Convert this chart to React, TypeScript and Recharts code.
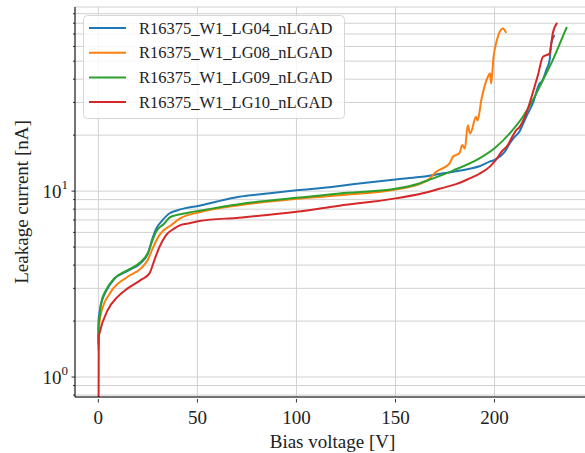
import React from 'react';
import { LineChart, Line, XAxis, YAxis, CartesianGrid, Legend } from 'recharts';

// Bias voltage [V] and leakage current [nA] per sensor
const lg04V = [0, 0.1, 0.5, 1.3, 3.9, 8.1, 14.8, 21.5, 24.9, 27.4, 29.1, 32, 36, 39.2, 44, 51, 60, 71, 85, 100, 116.7, 121.7, 135, 150, 162, 167.2, 175, 187.4, 192.4, 197.5, 200, 202.5, 205, 207.6, 210, 212.6, 214, 216, 219.3, 222.7, 224, 226.1, 227.8, 228.6, 230.3];
const lg04I = [1.6, 2.0, 2.2, 2.45, 2.9, 3.37, 3.72, 4.12, 4.58, 5.6, 6.25, 6.9, 7.6, 7.84, 8.1, 8.34, 8.8, 9.32, 9.7, 10.1, 10.5, 10.65, 11.1, 11.56, 11.9, 12.1, 12.5, 13.2, 13.6, 14.4, 14.7, 15.3, 16.2, 18.0, 19.5, 20.9, 22.5, 25.1, 29.6, 37.9, 39.0, 44.7, 50.6, 62.2, 69.0];

const lg08V = [0, 0.1, 0.5, 1.3, 6.4, 14.8, 21.5, 24.9, 27.4, 30.8, 36.7, 42, 51, 71, 100, 121.7, 150, 162, 167, 170.5, 172.2, 177.3, 179, 182.3, 183.7, 185, 186.5, 187.7, 190.7, 191.5, 193.3, 196.6, 197.8, 198.3, 199.5, 201.2, 204.2, 205.9];
const lg08I = [1.4, 1.7, 1.95, 2.2, 2.88, 3.46, 3.84, 4.26, 4.92, 5.8, 6.56, 7.2, 7.7, 8.4, 9.1, 9.5, 10.2, 10.9, 11.6, 12.7, 13.0, 14.1, 15.3, 16.0, 17.7, 16.9, 22.6, 20.4, 25.1, 24.0, 30.8, 41.1, 43.0, 37.9, 52.7, 64.9, 75.0, 71.0];

const lg09V = [0, 0.1, 0.5, 1.3, 3.9, 8.1, 14.8, 21.5, 24.9, 27.4, 29.1, 33.3, 35.9, 39.2, 42.6, 46, 51, 71, 100, 121.7, 150, 162, 167, 179, 192.4, 200, 207.6, 214.3, 219.3, 224.4, 229.4, 233.7, 236.5];
const lg09I = [1.5, 1.9, 2.05, 2.49, 2.94, 3.4, 3.76, 4.17, 4.63, 5.46, 6.04, 6.7, 7.2, 7.43, 7.55, 7.68, 7.85, 8.51, 9.2, 9.72, 10.3, 11.0, 11.5, 12.9, 15.0, 17.0, 20.4, 25.1, 30.8, 39.5, 50.6, 64.8, 76.4];

const lg10V = [0, 0.2, 0.5, 4.7, 9.7, 14.8, 21.5, 25.8, 28.3, 30.8, 34.2, 38.4, 42, 46, 51, 71, 100, 121.7, 150, 167, 172.2, 180.6, 187.4, 192.4, 197.5, 200, 204.2, 206, 211, 212.6, 216, 220.2, 221.9, 224.4, 227.8, 229.4, 231.6];
const lg10I = [0.3, 1.65, 1.71, 2.29, 2.7, 3.0, 3.33, 3.61, 4.26, 5.0, 5.8, 6.3, 6.6, 6.72, 6.9, 7.2, 7.74, 8.35, 9.14, 9.92, 10.3, 10.9, 11.7, 12.4, 13.5, 14.4, 16.6, 17.3, 21.3, 22.1, 26.2, 36.4, 42.0, 52.7, 55.0, 70.5, 80.3];

const seriesNames = ['R16375_W1_LG04_nLGAD', 'R16375_W1_LG08_nLGAD', 'R16375_W1_LG09_nLGAD', 'R16375_W1_LG10_nLGAD'];
const seriesColors = ['#1f77b4', '#ff7f0e', '#2ca02c', '#d62728'];

const xTicks = [0, 50, 100, 150, 200];
const yMajorTicks = [1, 10];
const yTicks = [0.8, 0.9, 1, 2, 3, 4, 5, 6, 7, 8, 9, 10, 20, 30, 40, 50, 60, 70, 80, 90];

const zip = (v: number[], i: number[]) => v.map((x, k) => ({ v: x, i: i[k] }));
const allSeries = [zip(lg04V, lg04I), zip(lg08V, lg08I), zip(lg09V, lg09I), zip(lg10V, lg10I)];

const FONT = '"Liberation Serif", "DejaVu Serif", serif';
const TEXT = '#222';

const YTick = (props: any) => {
  const { x, y, payload } = props;
  const v = payload.value;
  const major = yMajorTicks.includes(v);
  const len = major ? 3.5 : 2;
  return (
    <g>
      <line x1={x - len} x2={x} y1={y} y2={y} stroke="#000" strokeWidth={0.8} />
      {major && (
        <text x={x - 7} y={y} textAnchor="end" dominantBaseline="central" fontFamily={FONT} fontSize={19} fill={TEXT}>
          10
          <tspan fontSize={13} dy={-7}>{v === 1 ? '0' : '1'}</tspan>
        </text>
      )}
    </g>
  );
};

const XTick = (props: any) => {
  const { x, y, payload } = props;
  return (
    <g>
      <line x1={x} x2={x} y1={y} y2={y + 3.5} stroke="#000" strokeWidth={0.8} />
      <text x={x} y={y + 18} textAnchor="middle" dominantBaseline="central" fontFamily={FONT} fontSize={19} fill={TEXT}>
        {payload.value}
      </text>
    </g>
  );
};

const YLabel = (props: any) => {
  const { viewBox } = props;
  const cy = viewBox.y + viewBox.height / 2;
  return (
    <text x={21} y={cy} transform={`rotate(-90, 21, ${cy})`} textAnchor="middle" dominantBaseline="central" fontFamily={FONT} fontSize={19} fill={TEXT}>
      Leakage current [nA]
    </text>
  );
};

const LegendBox = () => (
  <svg width={262} height={104} style={{ display: 'block' }}>
    <rect x={0.5} y={0.5} width={261} height={103} rx={4} ry={4} fill="rgba(255,255,255,0.8)" stroke="#d6d6d6" strokeWidth={1} />
    {seriesNames.map((n, k) => {
      const cy = 13 + k * 24.7;
      return (
        <g key={n}>
          <line x1={6} x2={43} y1={cy} y2={cy} stroke={seriesColors[k]} strokeWidth={2} />
          <text x={56} y={cy} dominantBaseline="central" fontFamily={FONT} fontSize={16.5} fill={TEXT}>{n}</text>
        </g>
      );
    })}
  </svg>
);

export default function App() {
  return (
    <div style={{ position: 'absolute', left: 0, top: 0, width: 585, height: 453, overflow: 'hidden', background: '#fff' }}>
      <LineChart width={600} height={453} margin={{ top: 7, right: 10, bottom: 0, left: 0 }}>
        <CartesianGrid stroke="#d0d0d0" strokeWidth={1} />
        <XAxis
          dataKey="v"
          type="number"
          domain={[-11.8, 248.2]}
          ticks={xTicks}
          interval={0}
          allowDataOverflow
          height={56}
          tickLine={false}
          tickSize={0}
          tick={<XTick />}
          axisLine={{ stroke: '#000', strokeWidth: 1 }}
          label={{ value: 'Bias voltage [V]', position: 'insideBottom', offset: 5, fontFamily: FONT, fontSize: 19, fill: TEXT }}
        />
        <XAxis
          xAxisId="top"
          orientation="top"
          dataKey="v"
          type="number"
          domain={[-11.8, 248.2]}
          height={0}
          tick={false}
          tickLine={false}
          axisLine={{ stroke: '#000', strokeWidth: 1 }}
        />
        <YAxis
          dataKey="i"
          type="number"
          scale="log"
          domain={[0.781, 97.8]}
          ticks={yTicks}
          interval={0}
          allowDataOverflow
          width={75}
          tickLine={false}
          tickSize={0}
          tickMargin={0}
          tick={<YTick />}
          axisLine={{ stroke: '#000', strokeWidth: 1 }}
          label={<YLabel />}
        />
        <Legend
          layout="horizontal"
          verticalAlign="middle"
          align="center"
          content={() => <LegendBox />}
          wrapperStyle={{ left: 83, top: 15, width: 262, height: 104 }}
        />
        {allSeries.map((d, k) => (
          <Line
            key={seriesNames[k]}
            data={d}
            dataKey="i"
            name={seriesNames[k]}
            type="monotone"
            stroke={seriesColors[k]}
            strokeWidth={2}
            dot={false}
            activeDot={false}
            isAnimationActive={false}
          />
        ))}
      </LineChart>
    </div>
  );
}
